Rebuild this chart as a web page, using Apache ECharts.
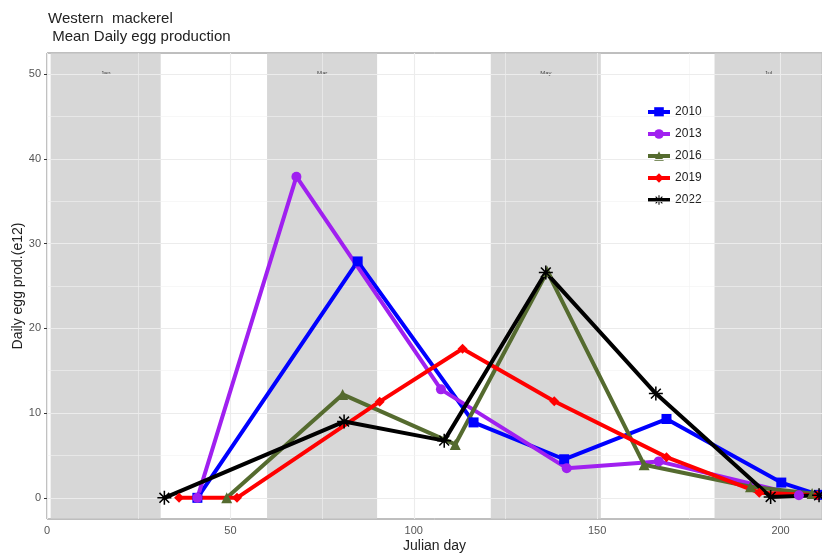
<!DOCTYPE html>
<html>
<head>
<meta charset="utf-8">
<script src="https://cdn.jsdelivr.net/npm/echarts@6/dist/echarts.min.js"></script>
<style>
html,body{margin:0;padding:0;background:#fff;}
#chart{width:822px;height:556px;}
</style>
</head>
<body>
<div id="chart"></div>
<script>
// ---- data ----
var years = ['2010', '2013', '2016', '2019', '2022'];

var days2010 = [41, 84.7, 116.3, 141, 168.9, 200.2, 210.5];
var egg2010  = [0, 27.9, 8.9, 4.55, 9.3, 1.8, 0.35];

var days2013 = [41, 68, 107.4, 141.7, 166.8, 205];
var egg2013  = [0, 37.9, 12.8, 3.5, 4.3, 0.3];

var days2016 = [49, 80.6, 111.3, 136.4, 162.8, 191.8, 208.6];
var egg2016  = [0, 12.2, 6.3, 26.7, 3.9, 1.3, 0.5];

var days2019 = [36, 51.8, 90.7, 113.3, 138.3, 168.9, 194.2, 210];
var egg2019  = [0, 0, 11.35, 17.6, 11.4, 4.8, 0.6, 0.3];

var days2022 = [32, 81, 108.3, 136, 166, 197.3, 210.5];
var egg2022  = [0, 9.0, 6.75, 26.6, 12.3, 0.1, 0.3];

var xTicks = [0, 50, 100, 150, 200];
var yTicks = [0, 10, 20, 30, 40, 50];

var monthNames = ['Jan', 'Mar', 'May', 'Jul'];
var monthStart = [1, 60, 121, 182];
var monthEnd   = [31, 90, 151, 212];

// ---- build ----
function pairs(xs, ys) { return xs.map(function (x, i) { return [x, ys[i]]; }); }

var asterisk = 'path://M8.9 0L11.1 0L11.1 20L8.9 20Z M0 8.9L20 8.9L20 11.1L0 11.1Z M2.22 3.78L3.78 2.22L17.78 16.22L16.22 17.78Z M16.22 2.22L17.78 3.78L3.78 17.78L2.22 16.22Z';

var styles = {
  '2010': { color: '#0000FF', symbol: 'rect', size: 10 },
  '2013': { color: '#A020F0', symbol: 'circle', size: 10 },
  '2016': { color: '#556B2F', symbol: 'triangle', size: 11 },
  '2019': { color: '#FF0000', symbol: 'diamond', size: 10 },
  '2022': { color: '#000000', symbol: asterisk, size: 14 }
};
var seriesData = {
  '2010': pairs(days2010, egg2010),
  '2013': pairs(days2013, egg2013),
  '2016': pairs(days2016, egg2016),
  '2019': pairs(days2019, egg2019),
  '2022': pairs(days2022, egg2022)
};

var xMinor = [];
for (var i = 0; i < xTicks.length; i++) { xMinor.push(xTicks[i] + 25); }
var yMinor = [];
for (var j = 0; j < yTicks.length - 1; j++) { yMinor.push(yTicks[j] + 5); }

var gridLines = [];
xTicks.forEach(function (v) { gridLines.push({ xAxis: v, lineStyle: { color: '#ececec', width: 1.1, type: 'solid' } }); });
xMinor.forEach(function (v) { gridLines.push({ xAxis: v, lineStyle: { color: '#f2f2f2', width: 0.6, type: 'solid' } }); });
yTicks.forEach(function (v) { gridLines.push({ yAxis: v, lineStyle: { color: '#ececec', width: 1.1, type: 'solid' } }); });
yMinor.forEach(function (v) { gridLines.push({ yAxis: v, lineStyle: { color: '#f2f2f2', width: 0.6, type: 'solid' } }); });

var bands = monthNames.map(function (m, i) {
  return [{ xAxis: monthStart[i], name: m }, { xAxis: monthEnd[i] }];
});

var font = 'Liberation Sans, Arial, sans-serif';

var series = [
  {
    name: 'grid', type: 'line', data: [], silent: true, z: 1,
    markLine: { silent: true, symbol: 'none', label: { show: false }, animation: false, data: gridLines }
  },
  {
    name: 'bands', type: 'line', data: [], silent: true, z: 2,
    markArea: {
      silent: true,
      itemStyle: { color: 'rgba(205,205,205,0.8)' },
      label: { show: true, position: 'insideTop', distance: 17, fontSize: 6, color: '#444', fontFamily: font },
      data: bands
    }
  }
];
years.forEach(function (y) {
  var s = styles[y];
  series.push({
    name: y, type: 'line', data: seriesData[y], z: 5,
    symbol: s.symbol, symbolSize: s.size, showAllSymbol: true,
    lineStyle: { color: s.color, width: 4 },
    itemStyle: { color: s.color },
    animation: false
  });
});

var chart = echarts.init(document.getElementById('chart'), null, { renderer: 'canvas' });
chart.setOption({
  animation: false,
  backgroundColor: '#fff',
  title: {
    text: 'Western  mackerel\n Mean Daily egg production',
    left: 43, top: 5,
    textStyle: { fontFamily: font, fontSize: 15, fontWeight: 'normal', color: '#222', lineHeight: 18 }
  },
  grid: { left: 47, right: 0, top: 53, bottom: 37, outerBoundsMode: 'none', containLabel: false,
          show: true, borderColor: '#7f7f7f', borderWidth: 1, backgroundColor: 'transparent' },
  legend: {
    data: years, orient: 'vertical', left: 641, top: 101,
    itemWidth: 22, itemHeight: 12, itemGap: 10,
    lineStyle: { width: 4 },
    textStyle: { fontFamily: font, fontSize: 12, color: '#222' },
    backgroundColor: 'transparent'
  },
  xAxis: {
    type: 'value', min: 0, max: 211.3, interval: 50,
    name: 'Julian day', nameLocation: 'middle', nameGap: 20, nameMoveOverlap: false,
    nameTextStyle: { fontFamily: font, fontSize: 14, color: '#222' },
    axisLine: { show: false },
    axisTick: { show: true, length: 3, lineStyle: { color: '#333' }, customValues: xTicks },
    axisLabel: { fontFamily: font, fontSize: 11, color: '#555', margin: 6, customValues: xTicks },
    splitLine: { show: false }
  },
  yAxis: {
    type: 'value', min: -2.5, max: 52.5,
    name: 'Daily egg prod.(e12)', nameLocation: 'middle', nameGap: 22, nameMoveOverlap: false,
    nameTextStyle: { fontFamily: font, fontSize: 14, color: '#222' },
    axisLine: { show: false },
    axisTick: { show: true, length: 3, lineStyle: { color: '#333' }, customValues: yTicks },
    axisLabel: { fontFamily: font, fontSize: 11, color: '#555', margin: 6, customValues: yTicks },
    splitLine: { show: false }
  },
  series: series
});
</script>
</body>
</html>
